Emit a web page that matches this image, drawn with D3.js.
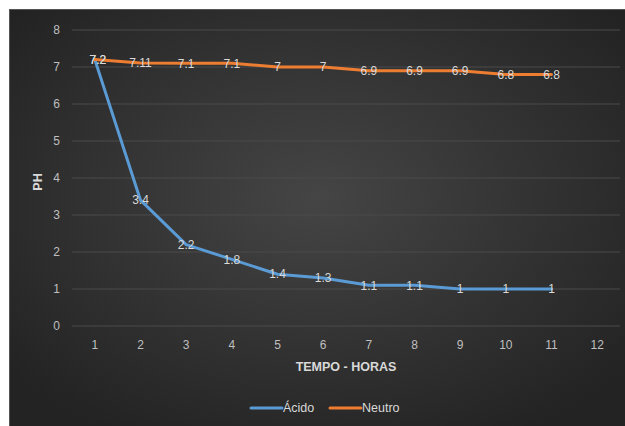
<!DOCTYPE html>
<html><head><meta charset="utf-8">
<script src="https://cdn.jsdelivr.net/npm/d3@7"></script>
<style>body{margin:0;background:#fff}svg{display:block}</style>
</head><body><div id="c"></div>
<script>
const categories = [1,2,3,4,5,6,7,8,9,10,11,12];
const acido = [7.2,3.4,2.2,1.8,1.4,1.3,1.1,1.1,1,1,1];
const neutro = [7.2,7.11,7.1,7.1,7,7,6.9,6.9,6.9,6.8,6.8];
const yTicks = [0,1,2,3,4,5,6,7,8];
const seriesNames = ["Ácido","Neutro"];
const colors = ["#5b9bd5","#ed7d31"];

const W=625,H=426;
const svg=d3.select("#c").append("svg").attr("width",W).attr("height",H);
const defs=svg.append("defs");
const g=defs.append("radialGradient").attr("id","bg").attr("cx","50%").attr("cy","45%").attr("r","65%");
g.append("stop").attr("offset","0%").attr("stop-color","#454545");
g.append("stop").attr("offset","100%").attr("stop-color","#232323");
svg.append("rect").attr("x",9.5).attr("y",9.5).attr("width",W-9).attr("height",H-9).attr("fill","url(#bg)")
 .attr("stroke","#555").attr("stroke-width",1);

const x=d3.scaleBand().domain(categories).range([72,620]);
const y=d3.scaleLinear().domain([0,8]).range([326,30]);
const font="Liberation Sans, Arial, sans-serif";

// gridlines
svg.append("g").selectAll("line").data(yTicks).join("line")
 .attr("x1",72).attr("x2",620).attr("y1",d=>y(d)).attr("y2",d=>y(d))
 .attr("stroke","#4a4a4a").attr("stroke-width",1);

// y axis labels
const ya=svg.append("g").attr("transform","translate(72,0)")
 .call(d3.axisLeft(y).tickValues(yTicks).tickSize(0).tickPadding(12));
ya.select(".domain").remove();
ya.selectAll("text").attr("fill","#bfbfbf").attr("font-size",12).attr("font-family",font);

const xa=svg.append("g").attr("transform","translate(0,326)")
 .call(d3.axisBottom(x).tickSize(0).tickPadding(14));
xa.select(".domain").remove();
xa.selectAll("text").attr("fill","#bfbfbf").attr("font-size",12).attr("font-family",font);

const cx=d=>x(d)+x.bandwidth()/2;
const line=d3.line().x((d,i)=>cx(categories[i])).y(d=>y(d));
[acido,neutro].forEach((s,k)=>{
  svg.append("path").datum(s).attr("d",line).attr("fill","none")
   .attr("stroke",colors[k]).attr("stroke-width",3).attr("stroke-linejoin","round").attr("stroke-linecap","round");
});
[acido,neutro].forEach((s,k)=>{
  svg.append("g").selectAll("text").data(s).join("text")
   .attr("x",(d,i)=>cx(categories[i])+ (i===0?3:0)).attr("y",d=>y(d)).attr("dy","0.35em")
   .attr("text-anchor","middle").attr("fill","#d9d9d9").attr("font-size",12).attr("font-family",font)
   .text(d=>d);
});

svg.append("text").attr("x",346).attr("y",371).attr("text-anchor","middle")
 .attr("fill","#d9d9d9").attr("font-size",12.5).attr("font-weight","bold").attr("font-family",font).text("TEMPO - HORAS");
svg.append("text").attr("transform","translate(42,182) rotate(-90)").attr("text-anchor","middle")
 .attr("fill","#d9d9d9").attr("font-size",12.5).attr("font-weight","bold").attr("font-family",font).text("PH");

// legend
const leg=[{x:251},{x:330}];
seriesNames.forEach((n,k)=>{
  const lx=leg[k].x;
  svg.append("line").attr("x1",lx).attr("x2",lx+31).attr("y1",408).attr("y2",408)
   .attr("stroke",colors[k]).attr("stroke-width",3).attr("stroke-linecap","round");
  svg.append("text").attr("x",lx+32).attr("y",408).attr("dy","0.35em")
   .attr("fill","#d9d9d9").attr("font-size",12.5).attr("font-family",font).text(n);
});
</script></body></html>
